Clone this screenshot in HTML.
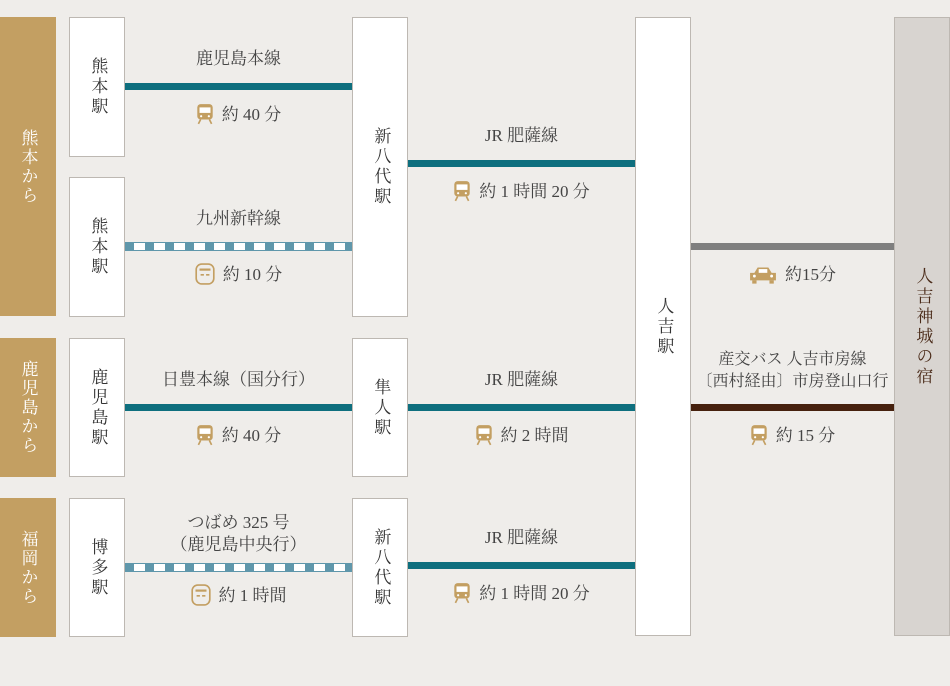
<!DOCTYPE html>
<html><head><meta charset="utf-8"><style>
body{margin:0;width:950px;height:686px;background:#efedea;position:relative;overflow:hidden;font-family:"Liberation Serif","Noto Serif CJK SC",serif;color:#444;}
div{position:absolute;box-sizing:border-box}
.g{background:#c39f62;left:0;width:56px;color:#fff;font-size:17px;writing-mode:vertical-rl;display:flex;align-items:center;justify-content:center;letter-spacing:2px}
.b{background:#fff;border:1px solid #bdb8b2;width:56px;writing-mode:vertical-rl;display:flex;align-items:center;justify-content:center;font-size:17px;color:#333;line-height:1.1;letter-spacing:3px}
.t{background:#0e6f7e;height:7px}
.d{height:9px;border-top:1px solid #5f97ab;border-bottom:1px solid #5f97ab;background:repeating-linear-gradient(90deg,#5f97ab 0 9px,#fff 9px 20px)}
.l{font-size:17px;text-align:center;line-height:22px;color:#444;white-space:nowrap}
.ic{display:inline-block;width:18px;height:22px;vertical-align:-5px;margin-right:8px}
</style></head><body>
<div class="g" style="top:17px;height:299px">熊本から</div>
<div class="g" style="top:338px;height:139px">鹿児島から</div>
<div class="g" style="top:498px;height:139px">福岡から</div>

<div class="b" style="left:69px;top:17px;height:140px">熊本駅</div>
<div class="b" style="left:69px;top:177px;height:140px">熊本駅</div>
<div class="b" style="left:69px;top:338px;height:139px">鹿児島駅</div>
<div class="b" style="left:69px;top:498px;height:139px">博多駅</div>
<div class="b" style="left:352px;top:17px;height:300px">新八代駅</div>
<div class="b" style="left:352px;top:338px;height:139px">隼人駅</div>
<div class="b" style="left:352px;top:498px;height:139px">新八代駅</div>
<div class="b" style="left:635px;top:17px;height:619px">人吉駅</div>
<div class="b" style="left:894px;top:17px;height:619px;background:#d8d4d0;color:#4a2a18">人吉神城の宿</div>

<div class="t" style="left:125px;width:227px;top:83px"></div>
<div class="d" style="left:125px;width:227px;top:242px"></div>
<div class="t" style="left:125px;width:227px;top:404px"></div>
<div class="d" style="left:125px;width:227px;top:563px"></div>
<div class="t" style="left:408px;width:227px;top:160px"></div>
<div class="t" style="left:408px;width:227px;top:404px"></div>
<div class="t" style="left:408px;width:227px;top:562px"></div>
<div style="left:691px;width:203px;top:243px;height:7px;background:#7f7f7f"></div>
<div style="left:691px;width:203px;top:404px;height:7px;background:#46210e"></div>

<svg width="0" height="0" style="position:absolute"><defs>
<symbol id="tr" viewBox="0 0 16 20"><rect x="1" y="1" width="14" height="14" rx="3" fill="#c39f62"/><rect x="3" y="4" width="10" height="5" fill="#fff"/><circle cx="4.5" cy="12" r="1" fill="#fff"/><circle cx="11.5" cy="12" r="1" fill="#fff"/><path d="M4 15 L2 19 M12 15 L14 19" stroke="#c39f62" stroke-width="1.5"/></symbol>
<symbol id="sk" viewBox="0 0 18 20"><rect x="1" y="1" width="16" height="18" rx="5" fill="none" stroke="#c39f62" stroke-width="1.5"/><rect x="4" y="5" width="10" height="2" fill="#c39f62"/><rect x="5" y="10" width="3" height="1.5" fill="#c39f62"/><rect x="10" y="10" width="3" height="1.5" fill="#c39f62"/></symbol>
<symbol id="car" viewBox="0 0 26 18"><path d="M5 7 L8 2 H18 L21 7 H25 V14 H1 V7 Z" fill="#c39f62"/><rect x="9" y="3.5" width="8" height="3.5" fill="#fff"/><rect x="3" y="14" width="4" height="3" fill="#c39f62"/><rect x="19" y="14" width="4" height="3" fill="#c39f62"/><circle cx="5" cy="10" r="1.3" fill="#fff"/><circle cx="21" cy="10" r="1.3" fill="#fff"/></symbol>
</defs></svg>

<div class="l" style="left:125px;width:227px;top:48px">鹿児島本線</div>
<div class="l" style="left:125px;width:227px;top:103px"><svg class="ic"><use href="#tr"/></svg>約 40 分</div>
<div class="l" style="left:125px;width:227px;top:208px">九州新幹線</div>
<div class="l" style="left:125px;width:227px;top:263px"><svg class="ic" style="width:20px"><use href="#sk"/></svg>約 10 分</div>
<div class="l" style="left:125px;width:227px;top:369px">日豊本線（国分行）</div>
<div class="l" style="left:125px;width:227px;top:424px"><svg class="ic"><use href="#tr"/></svg>約 40 分</div>
<div class="l" style="left:125px;width:227px;top:512px">つばめ 325 号<br>（鹿児島中央行）</div>
<div class="l" style="left:125px;width:227px;top:584px"><svg class="ic" style="width:20px"><use href="#sk"/></svg>約 1 時間</div>

<div class="l" style="left:408px;width:227px;top:125px">JR 肥薩線</div>
<div class="l" style="left:408px;width:227px;top:180px"><svg class="ic"><use href="#tr"/></svg>約 1 時間 20 分</div>
<div class="l" style="left:408px;width:227px;top:369px">JR 肥薩線</div>
<div class="l" style="left:408px;width:227px;top:424px"><svg class="ic"><use href="#tr"/></svg>約 2 時間</div>
<div class="l" style="left:408px;width:227px;top:527px">JR 肥薩線</div>
<div class="l" style="left:408px;width:227px;top:582px"><svg class="ic"><use href="#tr"/></svg>約 1 時間 20 分</div>

<div class="l" style="left:691px;width:203px;top:264px"><svg class="ic" style="width:28px;height:20px"><use href="#car"/></svg>約15分</div>
<div class="l" style="left:691px;width:203px;top:349px;font-size:16px">産交バス 人吉市房線<br>〔西村経由〕市房登山口行</div>
<div class="l" style="left:691px;width:203px;top:424px"><svg class="ic"><use href="#tr"/></svg>約 15 分</div>
</body></html>
